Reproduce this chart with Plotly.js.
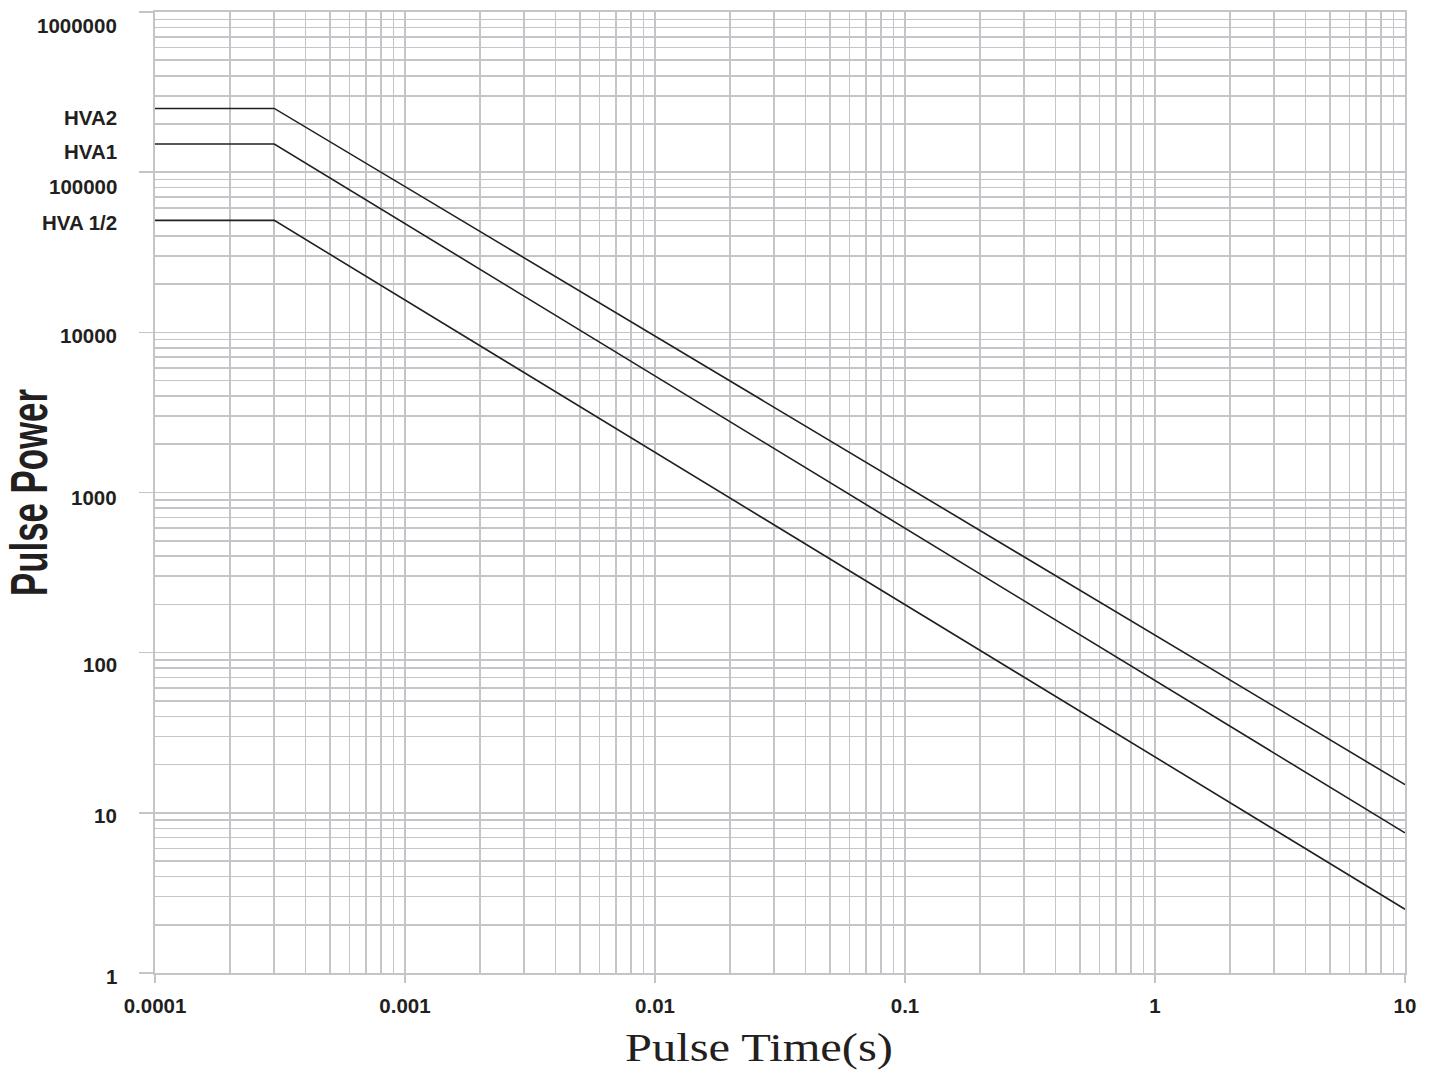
<!DOCTYPE html>
<html>
<head>
<meta charset="utf-8">
<script src="https://cdn.plot.ly/plotly-3.0.1.min.js"></script>
<style>
  html, body { margin: 0; padding: 0; background: #ffffff; }
  #chart { width: 1429px; height: 1075px; }
</style>
</head>
<body>
<div id="chart"></div>
<script>
// ---------------- DATA ----------------
const timeS        = [0.0001, 0.0003, 10];
const hva2Power    = [250000, 250000, 15];
const hva1Power    = [150000, 150000, 7.5];
const hvaHalfPower = [50000, 50000, 2.5];
const seriesNames  = ['HVA2', 'HVA1', 'HVA 1/2'];

const xTickVals = [0.0001, 0.001, 0.01, 0.1, 1, 10];
const xTickText = ['0.0001', '0.001', '0.01', '0.1', '1', '10'];
const yTickVals = [1, 10, 100, 1000, 10000, 100000, 1000000];
const yTickText = ['1', '10', '100', '1000', '10000', '100000', '1000000'];

const xTitle = 'Pulse Time(s)';
const yTitle = 'Pulse Power';

// ---------------- STYLE ----------------
const gridColor = '#c4c5c8';
const lineColor = '#231f20';
const labelFont = {family: 'Liberation Sans, Arial, sans-serif', size: 20.5, color: '#231f20', weight: 'bold'};

// minor grid positions (2..9 within each decade)
function minorVals(lo, hi) {
  const out = [];
  for (let e = lo; e < hi; e++) {
    for (let d = 2; d <= 9; d++) out.push(d * Math.pow(10, e));
  }
  return out;
}

const seriesPower = [hva2Power, hva1Power, hvaHalfPower];
const traces = seriesPower.map((p, i) => ({
  type: 'scatter',
  mode: 'lines',
  name: seriesNames[i],
  x: timeS,
  y: p,
  line: {color: lineColor, width: 1.6},
  hoverinfo: 'x+y+name'
}));

// label vertical nudges (px, positive = up) to mimic reference placement
const yLabelShift = [-3, -3, -12, -5, -3, -14, -13];
const seriesLabelShift = [-9, -8, -2];

const annotations = [];
yTickVals.forEach((v, i) => {
  annotations.push({
    xref: 'paper', yref: 'y', x: 0, y: Math.log10(v),
    xanchor: 'right', yanchor: 'middle', xshift: -36, yshift: yLabelShift[i],
    text: yTickText[i], showarrow: false, font: labelFont
  });
});
seriesPower.forEach((p, i) => {
  annotations.push({
    xref: 'paper', yref: 'y', x: 0, y: Math.log10(p[0]),
    xanchor: 'right', yanchor: 'middle', xshift: -36, yshift: seriesLabelShift[i],
    text: seriesNames[i], showarrow: false, font: labelFont
  });
});

const layout = {
  width: 1429,
  height: 1075,
  margin: {l: 155, r: 24, t: 12, b: 102},
  paper_bgcolor: '#ffffff',
  plot_bgcolor: '#ffffff',
  showlegend: false,
  xaxis: {
    type: 'log',
    range: [-4, 1],
    tickmode: 'array',
    tickvals: xTickVals,
    ticktext: xTickText,
    tickfont: labelFont,
    ticks: 'outside',
    ticklen: 8,
    tickwidth: 1.5,
    tickcolor: gridColor,
    showgrid: true,
    gridcolor: gridColor,
    gridwidth: 1.6,
    minor: {tickmode: 'array', tickvals: minorVals(-4, 1), showgrid: true, gridcolor: gridColor, gridwidth: 1.6, ticks: ''},
    showline: true,
    linecolor: gridColor,
    linewidth: 1.6,
    mirror: true,
    zeroline: false,
    ticklabelstandoff: 6,
    title: {text: xTitle, font: {family: 'Liberation Serif, Times New Roman, serif', size: 39, color: '#231f20'}, standoff: 10}
  },
  yaxis: {
    type: 'log',
    range: [0, 6],
    tickmode: 'array',
    tickvals: yTickVals,
    showticklabels: false,
    ticks: 'outside',
    ticklen: 14,
    tickwidth: 1.5,
    tickcolor: gridColor,
    showgrid: true,
    gridcolor: gridColor,
    gridwidth: 1.6,
    minor: {tickmode: 'array', tickvals: minorVals(0, 6), showgrid: true, gridcolor: gridColor, gridwidth: 1.6, ticks: ''},
    showline: true,
    linecolor: gridColor,
    linewidth: 1.6,
    mirror: true,
    zeroline: false,
    title: {text: yTitle, font: {family: 'Liberation Sans, Arial, sans-serif', size: 52, color: '#231f20', weight: 'bold'}, standoff: 93}
  },
  annotations: annotations
};

Plotly.newPlot('chart', traces, layout, {displayModeBar: false, staticPlot: true}).then(function (gd) {
  const yt = gd.querySelector('.g-ytitle text');
  if (yt) {
    yt.setAttribute('textLength', '207');
    yt.setAttribute('lengthAdjust', 'spacingAndGlyphs');
  }
  const xt = gd.querySelector('.g-xtitle text');
  if (xt) {
    xt.setAttribute('textLength', '268');
    xt.setAttribute('lengthAdjust', 'spacingAndGlyphs');
    const x0 = parseFloat(xt.getAttribute('x'));
    const y0 = parseFloat(xt.getAttribute('y'));
    xt.setAttribute('x', x0 - 21);
    xt.setAttribute('y', y0 + 7);
  }
});
</script>
</body>
</html>
